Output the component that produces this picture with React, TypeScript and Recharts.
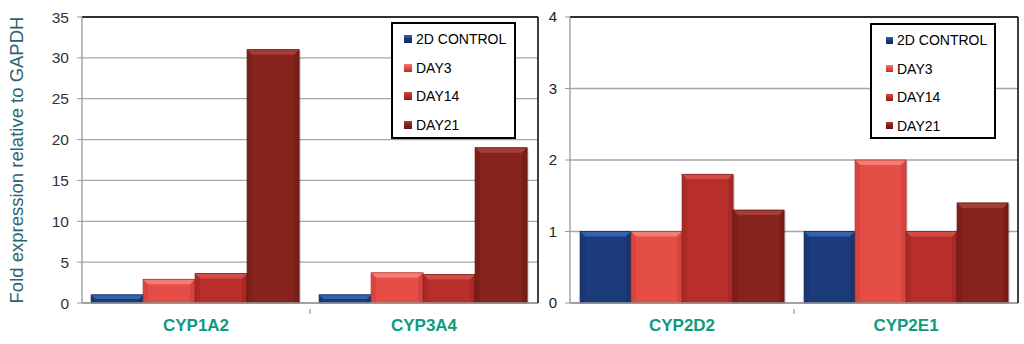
import { BarChart, Bar, XAxis, YAxis, CartesianGrid, ReferenceLine, Label } from 'recharts'

const leftGenes = ['CYP1A2', 'CYP3A4']
const rightGenes = ['CYP2D2', 'CYP2E1']
const seriesNames = ['2D CONTROL', 'DAY3', 'DAY14', 'DAY21']

const leftControl = [1, 1]
const leftDay3 = [2.9, 3.7]
const leftDay14 = [3.6, 3.5]
const leftDay21 = [31, 19]

const rightControl = [1, 1]
const rightDay3 = [1, 2]
const rightDay14 = [1.8, 1]
const rightDay21 = [1.3, 1.4]

const leftTicks = [0, 5, 10, 15, 20, 25, 30, 35]
const rightTicks = [0, 1, 2, 3, 4]

const keys = ['control', 'day3', 'day14', 'day21']
const fills = ['#1c3b7a', '#e54d47', '#b72e2a', '#86231d']
const lights = ['#3563b0', '#f27d74', '#d24c45', '#a63d35']
const darks = ['#122a5a', '#b8332e', '#8a1f1c', '#5e1511']

const toRows = (genes: string[], cols: number[][]) =>
  genes.map((g, i) => ({
    gene: g,
    control: cols[0][i],
    day3: cols[1][i],
    day14: cols[2][i],
    day21: cols[3][i],
  }))

const leftData = toRows(leftGenes, [leftControl, leftDay3, leftDay14, leftDay21])
const rightData = toRows(rightGenes, [rightControl, rightDay3, rightDay14, rightDay21])

const bevel = (i: number) => (props: any) => {
  const { x, y, width, height } = props
  if (!height || height <= 0) return <g />
  const b = Math.min(5, height / 2)
  return (
    <g>
      <rect x={x + 2} y={y + 1} width={width} height={height - 1} fill="#000" opacity={0.12} />
      <rect x={x} y={y} width={width} height={height} fill={fills[i]} />
      <polygon
        points={`${x},${y} ${x + width},${y} ${x + width - b},${y + b} ${x + b},${y + b}`}
        fill={lights[i]}
      />
      <polygon points={`${x},${y} ${x + b},${y + b} ${x + b},${y + height} ${x},${y + height}`} fill={darks[i]} opacity={0.25} />
      <polygon
        points={`${x + width},${y} ${x + width - b},${y + b} ${x + width - b},${y + height} ${x + width},${y + height}`}
        fill={darks[i]}
        opacity={0.35}
      />
      <rect x={x} y={y} width={width} height={height} fill="none" stroke={darks[i]} strokeWidth={0.8} />
    </g>
  )
}

const LegendBox = (p: { left: number; top: number; width: number; height: number; font: string; size: number; icon: number; pad: number }) => (
  <div
    style={{
      position: 'absolute',
      left: p.left,
      top: p.top,
      width: p.width,
      height: p.height,
      border: '2px solid #000',
      background: '#fff',
      boxSizing: 'border-box',
      paddingTop: 1,
      paddingLeft: p.pad,
    }}
  >
    {seriesNames.map((s, i) => (
      <div key={s} style={{ display: 'flex', alignItems: 'center', height: 28.5, fontFamily: p.font, fontSize: p.size, color: '#000' }}>
        <span
          style={{
            display: 'inline-block',
            width: p.icon,
            height: p.icon,
            marginRight: 4,
            background: `linear-gradient(${lights[i]}, ${fills[i]} 45%, ${darks[i]})`,
          }}
        />
        {s}
      </div>
    ))}
  </div>
)

const geneTick = (band: number) => (props: any) => {
  const { x, y, payload, index } = props
  return (
    <g>
      {index === 0 && <line x1={x + band / 2} x2={x + band / 2} y1={y - 8} y2={y - 3} stroke="#888" />}
      <text x={x} y={y + 14} textAnchor="middle" fill="#0f9a80" fontFamily="Arial, 'Liberation Sans'" fontWeight="bold" fontSize={17}>
        {payload.value}
      </text>
    </g>
  )
}

const yTitle = (props: any) => {
  const vb = props.viewBox
  const cy = vb.y + vb.height / 2
  return (
    <text
      x={16}
      y={cy}
      transform={`rotate(-90, 16, ${cy})`}
      textAnchor="middle"
      dominantBaseline="central"
      fill="#2b6274"
      fontFamily="Arial, 'Liberation Sans'"
      fontSize={18.5}
    >
      Fold expression relative to GAPDH
    </text>
  )
}

export default function App() {
  return (
    <div style={{ position: 'absolute', left: 0, top: 0, width: 1024, height: 344, background: '#fff' }}>
      <div style={{ position: 'absolute', left: 0, top: 0 }}>
        <BarChart width={540} height={344} data={leftData} margin={{ top: 17, right: 1, bottom: 0, left: 0 }} barGap={0} barCategoryGap="4%">
          <CartesianGrid vertical={false} stroke="#a6a6a6" strokeWidth={1.3} />
          <XAxis
            dataKey="gene"
            height={41}
            axisLine={{ stroke: '#999', strokeWidth: 1.3 }}
            tickLine={false}
            tick={geneTick(228)}
            tickMargin={8}
          />
          <YAxis
            width={82}
            domain={[0, 35]}
            ticks={leftTicks}
            axisLine={{ stroke: '#999', strokeWidth: 1.3 }}
            tickLine={{ stroke: '#999' }}
            tickSize={5}
            tickMargin={8}
            tick={{ fill: '#333', fontSize: 15.5, fontFamily: "'Liberation Sans', Arial" }}
          >
            <Label content={yTitle} />
          </YAxis>
          <YAxis yAxisId="edge" orientation="right" width={1} domain={[0, 35]} tick={false} tickLine={false} axisLine={{ stroke: '#000', strokeWidth: 1.5 }} />
          <ReferenceLine y={35} stroke="#000" strokeWidth={1.5} />
          {keys.map((k, i) => (
            <Bar key={k} dataKey={k} name={seriesNames[i]} shape={bevel(i)} isAnimationActive={false} />
          ))}
        </BarChart>
        <LegendBox left={391} top={22} width={125} height={117} font="'Liberation Sans', Arial" size={14} icon={8} pad={11} />
      </div>
      <div style={{ position: 'absolute', left: 540, top: 0 }}>
        <BarChart width={484} height={344} data={rightData} margin={{ top: 17, right: 5, bottom: 0, left: 0 }} barGap={0} barCategoryGap="4.5%">
          <CartesianGrid vertical={false} stroke="#a6a6a6" strokeWidth={1.3} />
          <XAxis
            dataKey="gene"
            height={41}
            axisLine={{ stroke: '#999', strokeWidth: 1.3 }}
            tickLine={false}
            tick={geneTick(224)}
            tickMargin={8}
          />
          <YAxis
            width={30}
            domain={[0, 4]}
            ticks={rightTicks}
            axisLine={{ stroke: '#999', strokeWidth: 1.3 }}
            tickLine={{ stroke: '#999' }}
            tickSize={5}
            tickMargin={8}
            tick={{ fill: '#222', fontSize: 15, fontFamily: "Arial, 'Liberation Sans'" }}
          />
          <YAxis yAxisId="edge" orientation="right" width={1} domain={[0, 4]} tick={false} tickLine={false} axisLine={{ stroke: '#000', strokeWidth: 1.5 }} />
          <ReferenceLine y={4} stroke="#000" strokeWidth={1.5} />
          {keys.map((k, i) => (
            <Bar key={k} dataKey={k} name={seriesNames[i]} shape={bevel(i)} isAnimationActive={false} />
          ))}
        </BarChart>
        <LegendBox left={330} top={23} width={126} height={116} font="Arial, 'Liberation Sans'" size={14} icon={7} pad={14} />
      </div>
    </div>
  )
}
